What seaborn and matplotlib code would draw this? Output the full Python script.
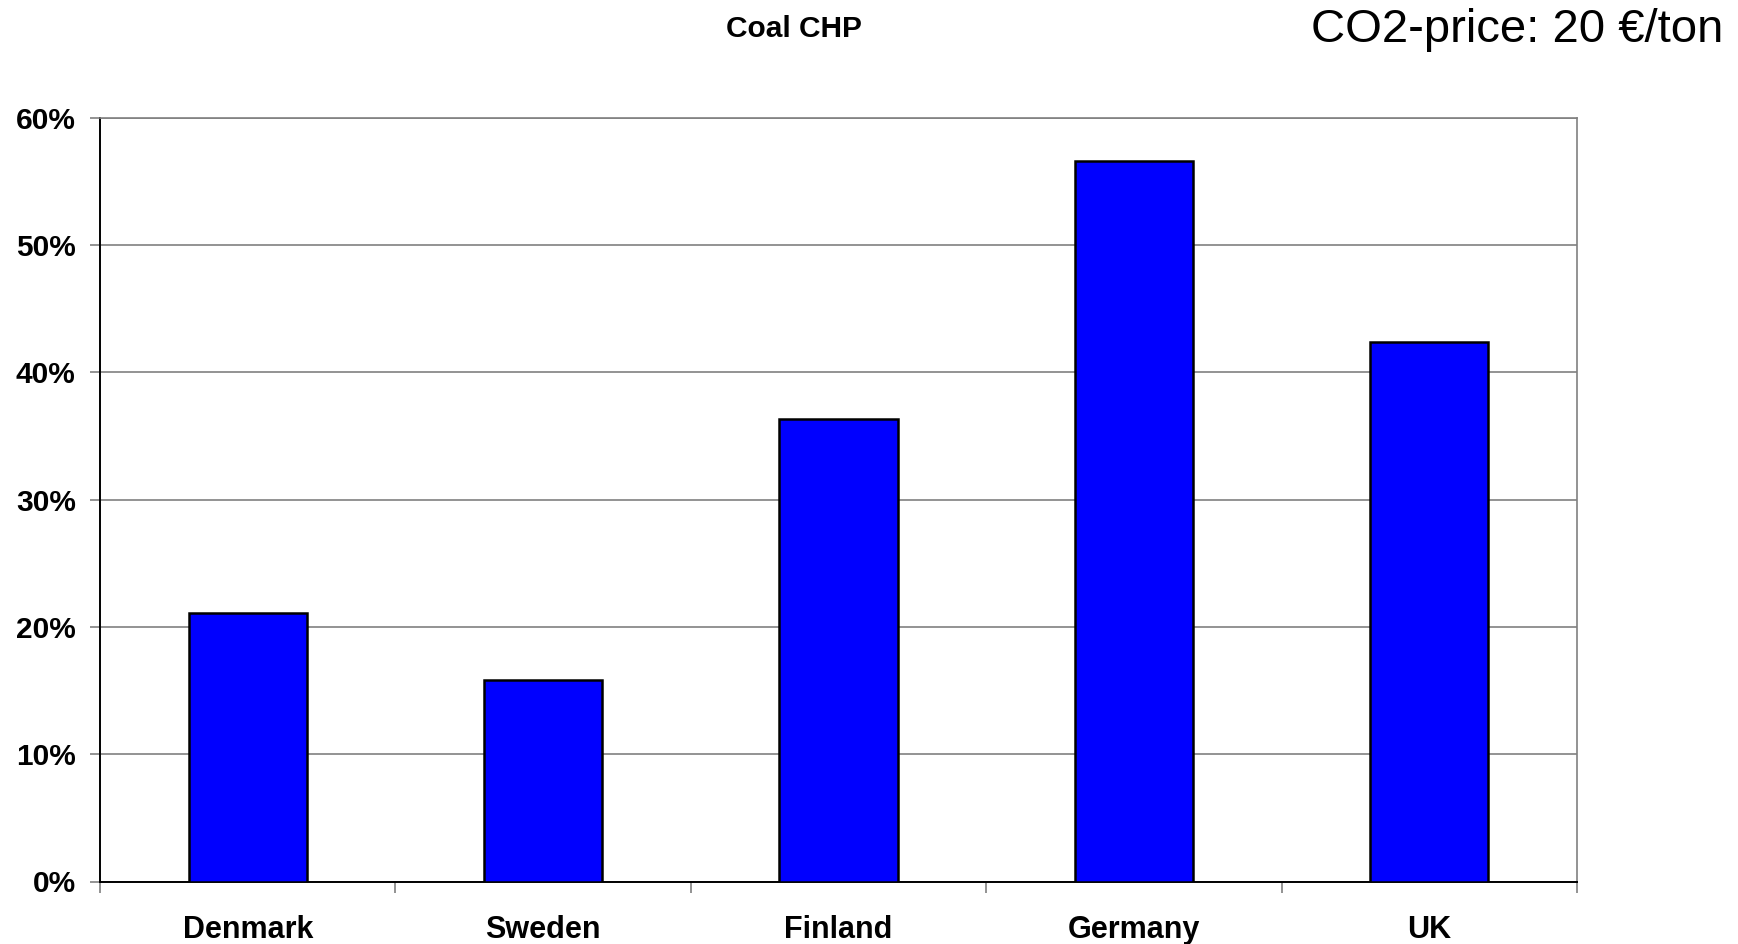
import matplotlib
matplotlib.use("Agg")
import matplotlib.pyplot as plt
import seaborn as sns
import pandas as pd
from matplotlib.ticker import FixedLocator, PercentFormatter

countries = ["Denmark", "Sweden", "Finland", "Germany", "UK"]
shares = [21.1, 15.8, 36.3, 56.6, 42.4]  # percent
y_ticks = [0, 10, 20, 30, 40, 50, 60]

sns.set_style("white")
plt.rcParams["font.family"] = ["Liberation Sans", "DejaVu Sans"]
plt.rcParams["text.color"] = "black"
plt.rcParams["xtick.labelcolor"] = "black"
plt.rcParams["ytick.labelcolor"] = "black"

df = pd.DataFrame({"country": countries, "share": shares})

fig = plt.figure(figsize=(17.38, 9.44), dpi=100)
ax = fig.add_axes([100 / 1738, 1 - 881.5 / 944, 1477 / 1738, 764 / 944])

sns.barplot(data=df, x="country", y="share", color="#0000FF", width=0.4,
            edgecolor="black", linewidth=1.8, saturation=1, ax=ax, zorder=3)

ax.set_xlim(-0.5, len(countries) - 0.5)
ax.set_ylim(0, 60)
ax.yaxis.set_major_locator(FixedLocator(y_ticks))
ax.yaxis.set_major_formatter(PercentFormatter(decimals=0))
ax.grid(axis="y", color="#808080", linewidth=1.2, zorder=0)
ax.set_axisbelow(True)

# category boundaries carry the x ticks; labels sit at category centres
ax.xaxis.set_minor_locator(FixedLocator([i - 0.5 for i in range(len(countries) + 1)]))
ax.tick_params(axis="x", which="major", length=0, pad=24, labelsize=22)
ax.tick_params(axis="x", which="minor", length=8, width=1.2, color="#808080", direction="out", bottom=True)
ax.tick_params(axis="y", which="major", length=7.5, width=1.2, color="#808080", direction="out",
               left=True, pad=10, labelsize=21.5)
for lab in ax.get_xticklabels() + ax.get_yticklabels():
    lab.set_fontweight("bold")
    lab.set_color("black")

ax.set_xlabel("")
ax.set_ylabel("")
for side in ["left", "bottom"]:
    ax.spines[side].set_color("black")
    ax.spines[side].set_linewidth(1.4)
for side in ["right", "top"]:
    ax.spines[side].set_color("#808080")
    ax.spines[side].set_linewidth(1.2)

fig.text(794 / 1738, 1 - 29 / 944, "Coal CHP", ha="center", va="center",
         fontsize=21.5, fontweight="bold", color="black")
fig.text(1723 / 1738, 1 - 30 / 944, "CO2-price: 20 €/ton", ha="right", va="center",
         fontsize=34, color="black")

fig.savefig("out.png", dpi=100, facecolor="white")
